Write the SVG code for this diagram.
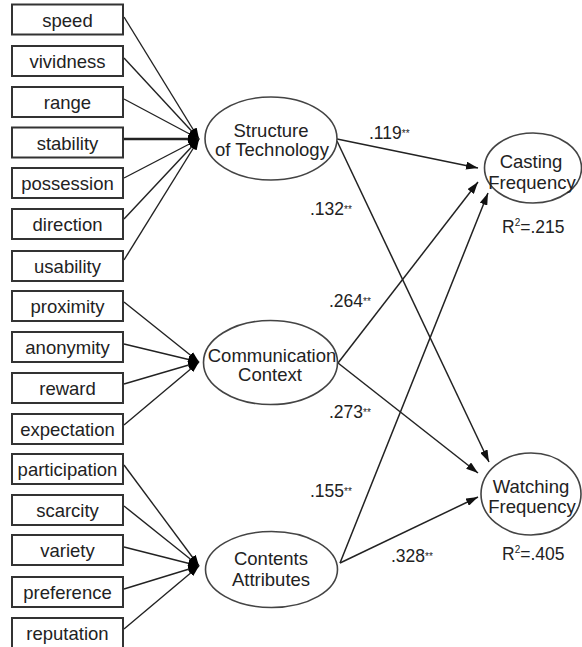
<svg xmlns="http://www.w3.org/2000/svg" width="582" height="647" viewBox="0 0 582 647">
<defs>
<marker id="ah" markerUnits="userSpaceOnUse" markerWidth="12" markerHeight="8" refX="12" refY="4" orient="auto"><path d="M0,0 L12,4 L0,8 z" fill="#111"/></marker>
<marker id="ahs" markerUnits="userSpaceOnUse" markerWidth="11" markerHeight="8" refX="11" refY="4" orient="auto"><path d="M0,0 L11,4 L0,8 z" fill="#000"/></marker>
</defs>
<style>
.box rect{fill:#fff;stroke:#333;stroke-width:2}
.box text,.lat text{font-family:"Liberation Sans",Arial,sans-serif;font-size:18.5px;fill:#222;text-anchor:middle}
.lat ellipse{fill:#fff;stroke:#444;stroke-width:1.6}
.in line{stroke:#222;stroke-width:1.4;marker-end:url(#ahs)}
.path line{stroke:#222;stroke-width:1.5;marker-end:url(#ah)}
.lbl{font-family:"Liberation Sans",Arial,sans-serif;font-size:17.5px;fill:#222}
.st{font-size:10px}
</style>
<rect width="582" height="647" fill="#fff"/>
<g id="connectors">
<g class="in">
<line x1="124" y1="17" x2="199" y2="139"/>
<line x1="124" y1="58" x2="199" y2="139"/>
<line x1="124" y1="99" x2="199" y2="139"/>
<line x1="124" y1="139" x2="199" y2="139" style="stroke-width:2.4"/>
<line x1="124" y1="178" x2="199" y2="139"/>
<line x1="124" y1="219" x2="199" y2="139"/>
<line x1="124" y1="260" x2="199" y2="139"/>
<line x1="124" y1="302" x2="199" y2="362"/>
<line x1="124" y1="344" x2="199" y2="362"/>
<line x1="124" y1="384" x2="199" y2="362"/>
<line x1="124" y1="425" x2="199" y2="362"/>
<line x1="124" y1="465" x2="199" y2="566"/>
<line x1="124" y1="506" x2="199" y2="566"/>
<line x1="124" y1="547" x2="199" y2="566"/>
<line x1="124" y1="589" x2="199" y2="566"/>
<line x1="124" y1="629" x2="199" y2="566"/>
</g>
<g class="path">
<line x1="337" y1="139" x2="478" y2="168"/>
<line x1="337" y1="141" x2="489" y2="462"/>
<line x1="338" y1="363" x2="478" y2="182"/>
<line x1="338" y1="363" x2="478" y2="473"/>
<line x1="340" y1="563" x2="488" y2="193"/>
<line x1="340" y1="563" x2="478" y2="497"/>
</g>
</g>
<g id="n-speed" class="box"><rect x="12" y="4.5" width="111" height="30"/><text x="67.5" y="27">speed</text></g>
<g id="n-vividness" class="box"><rect x="12" y="46" width="111" height="30"/><text x="67.5" y="68">vividness</text></g>
<g id="n-range" class="box"><rect x="12" y="87" width="111" height="30"/><text x="67.5" y="109">range</text></g>
<g id="n-stability" class="box"><rect x="12" y="127.5" width="111" height="30"/><text x="67.5" y="149.5">stability</text></g>
<g id="n-possession" class="box"><rect x="12" y="168" width="111" height="30"/><text x="67.5" y="190">possession</text></g>
<g id="n-direction" class="box"><rect x="12" y="209" width="111" height="30"/><text x="67.5" y="231">direction</text></g>
<g id="n-usability" class="box"><rect x="12" y="251" width="111" height="30"/><text x="67.5" y="273">usability</text></g>
<g id="n-proximity" class="box"><rect x="12" y="291" width="111" height="30"/><text x="67.5" y="313">proximity</text></g>
<g id="n-anonymity" class="box"><rect x="12" y="332" width="111" height="30"/><text x="67.5" y="354">anonymity</text></g>
<g id="n-reward" class="box"><rect x="12" y="373" width="111" height="30"/><text x="67.5" y="395">reward</text></g>
<g id="n-expectation" class="box"><rect x="12" y="414" width="111" height="30"/><text x="67.5" y="436">expectation</text></g>
<g id="n-participation" class="box"><rect x="12" y="454" width="111" height="30"/><text x="67.5" y="476">participation</text></g>
<g id="n-scarcity" class="box"><rect x="12" y="495" width="111" height="30"/><text x="67.5" y="517">scarcity</text></g>
<g id="n-variety" class="box"><rect x="12" y="535" width="111" height="30"/><text x="67.5" y="557">variety</text></g>
<g id="n-preference" class="box"><rect x="12" y="577" width="111" height="30"/><text x="67.5" y="599">preference</text></g>
<g id="n-reputation" class="box"><rect x="12" y="618" width="111" height="30"/><text x="67.5" y="640">reputation</text></g>
<g id="n-structure" class="lat"><ellipse cx="271" cy="138.5" rx="66" ry="41.5"/><text x="271" y="137">Structure</text><text x="272" y="156">of Technology</text></g>
<g id="n-communication" class="lat"><ellipse cx="270.5" cy="362.5" rx="67" ry="42"/><text x="272" y="362">Communication</text><text x="270" y="381">Context</text></g>
<g id="n-contents" class="lat"><ellipse cx="271.5" cy="569.5" rx="66" ry="38"/><text x="271" y="565">Contents</text><text x="271" y="586">Attributes</text></g>
<g id="n-casting" class="lat"><ellipse cx="533" cy="168" rx="48.5" ry="35"/><text x="531" y="168">Casting</text><text x="532" y="189">Frequency</text></g>
<g id="n-watching" class="lat"><ellipse cx="531" cy="494" rx="50" ry="41"/><text x="531" y="493">Watching</text><text x="532" y="513">Frequency</text></g>
<g id="labels">
<text class="lbl" x="369" y="139">.119<tspan class="st" dy="-2">**</tspan></text>
<text class="lbl" x="310" y="215">.132<tspan class="st" dy="-2">**</tspan></text>
<text class="lbl" x="329" y="307">.264<tspan class="st" dy="-2">**</tspan></text>
<text class="lbl" x="329" y="418">.273<tspan class="st" dy="-2">**</tspan></text>
<text class="lbl" x="310" y="497">.155<tspan class="st" dy="-2">**</tspan></text>
<text class="lbl" x="391" y="562">.328<tspan class="st" dy="-2">**</tspan></text>
<text class="lbl" x="502" y="233">R<tspan class="st" dy="-7">2</tspan><tspan dy="7">=.215</tspan></text>
<text class="lbl" x="502" y="560">R<tspan class="st" dy="-7">2</tspan><tspan dy="7">=.405</tspan></text>
</g>
</svg>
